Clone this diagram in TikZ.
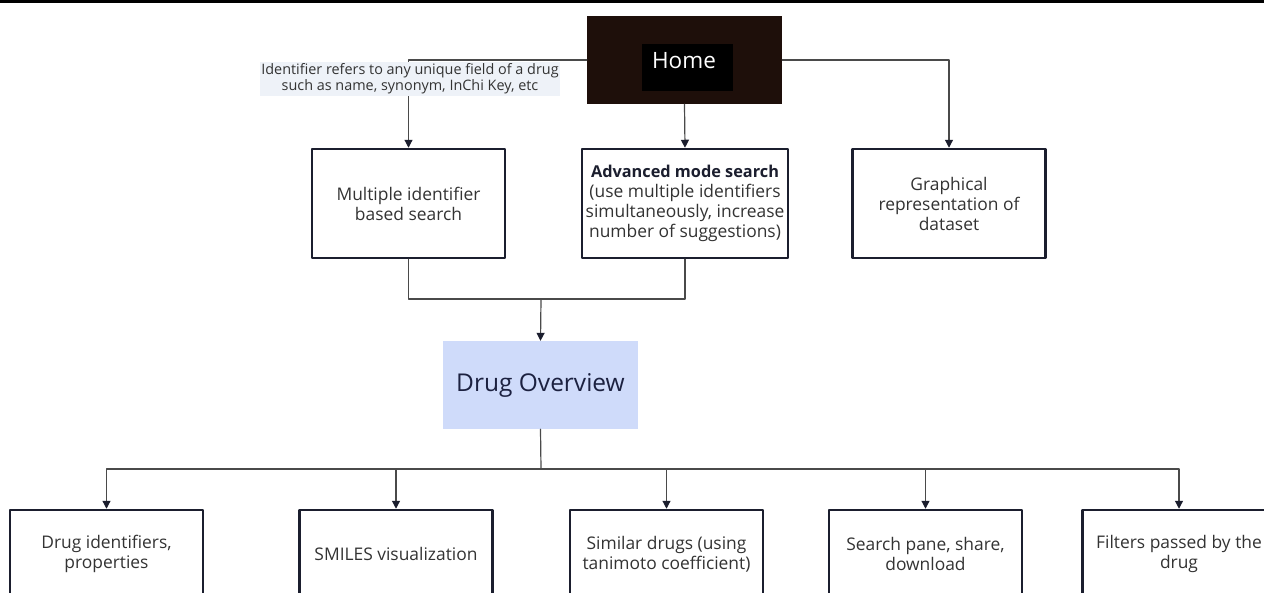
\documentclass[tikz,border=0pt]{standalone}
\usepackage{fontspec}
\setmainfont{Open Sans}
\usetikzlibrary{arrows.meta}
\definecolor{boxline}{HTML}{1B1E2E}
\definecolor{linkgrey}{HTML}{4A4A4A}
\definecolor{textgrey}{HTML}{333333}
\definecolor{homebrown}{HTML}{1E0F0A}
\definecolor{notebg}{HTML}{EEF2F8}
\definecolor{overviewbg}{HTML}{CFDBFA}
\definecolor{overviewtxt}{HTML}{1C2140}
\tikzset{
  box/.style={draw=boxline, line width=2.5pt, fill=white, minimum width=193pt, minimum height=109pt,
    align=center, text=textgrey, inner sep=0pt, font=\fontsize{17.4}{20}\selectfont},
  lowbox/.style={box, minimum height=88pt},
  link/.style={draw=linkgrey, line width=1.2pt},
  arr/.style={link, -{Triangle[width=8pt,length=8pt,color=boxline]}},
}
\begin{document}
\begin{tikzpicture}[line cap=round,line join=round,x=1pt,y=-1pt]
\clip(0,0) rectangle (1264,592);
\fill[white] (0,0) rectangle (1264,592);
\fill[black] (0,0) rectangle (1264,3);

\node[fill=homebrown, minimum width=195pt, minimum height=88pt] (home) at (684.5,60) {};
\node[fill=black, minimum width=91pt, minimum height=47pt] (homein) at (687.5,67.5) {};
\node[text=white, font=\fontsize{22.5}{24}\selectfont] (hometxt) at (684,61) {Home};

\node[box] (multi) at (408.5,203.5) {Multiple identifier\\based search};
\node[box, minimum width=206pt] (adv) at (685,203.5) {\textcolor{boxline}{\fontsize{16.3}{20}\selectfont\textbf{Advanced mode search}}\\(use multiple identifiers\\simultaneously, increase\\number of suggestions)};
\node[box] (graph) at (949,203.5) {Graphical\\representation of\\dataset};

\node[fill=overviewbg, minimum width=195pt, minimum height=88pt, text=overviewtxt,
  font=\fontsize{24.5}{28}\selectfont] (overview) at (540.5,385) {Drug Overview};

\node[lowbox] (ident) at (106.5,554) {Drug identifiers,\\properties};
\node[lowbox] (smiles) at (396,554) {SMILES visualization};
\node[lowbox] (similar) at (666.5,554) {Similar drugs (using\\tanimoto coefficient)};
\node[lowbox] (pane) at (925.5,554) {Search pane, share,\\download};
\node[lowbox] (filters) at (1179,554) {Filters passed by the\\drug};

\draw[arr] (home.west) -| (multi.north);
\draw[arr] (home.south) -- (adv.north);
\draw[arr] (home.east) -| (graph.north);

\node[fill=notebg, minimum width=300pt, minimum height=34pt, align=center, text=textgrey,
  font=\fontsize{14.4}{16}\selectfont, inner sep=0pt] (note) at (410,79)
  {Identifier refers to any unique field of a drug\\such as name, synonym, InChi Key, etc};

\coordinate (join) at (541,299);
\draw[link] (multi.south) |- (join) -| (adv.south);
\draw[arr] (join) -- (overview.north);

\coordinate (split) at (541,469);
\draw[link] (overview.south) -- (split);
\draw[arr] (split) -| (ident.north);
\draw[arr] (split) -| (smiles.north);
\draw[arr] (split) -| (similar.north);
\draw[arr] (split) -| (pane.north);
\draw[arr] (split) -| (filters.north);
\end{tikzpicture}
\end{document}
